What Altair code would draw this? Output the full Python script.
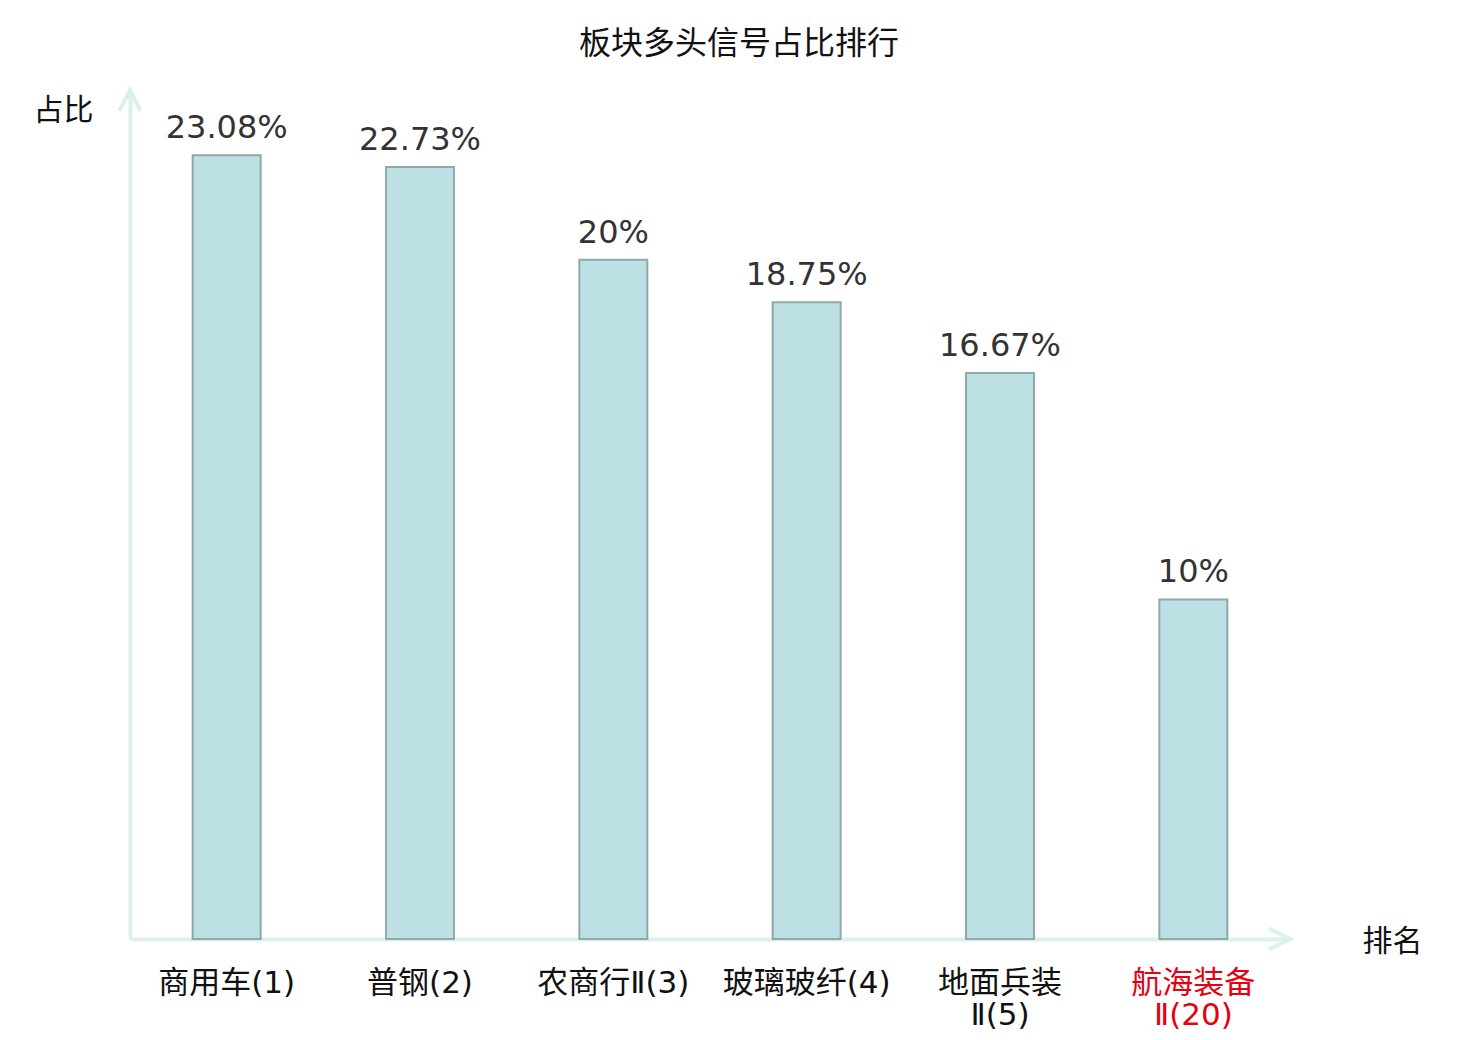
import altair as alt
import pandas as pd

categories = ["商用车(1)", "普钢(2)", "农商行Ⅱ(3)", "玻璃玻纤(4)", "地面兵装\nⅡ(5)", "航海装备\nⅡ(20)"]
values = [23.08, 22.73, 20, 18.75, 16.67, 10]

df = pd.DataFrame({"cat": categories, "value": values})

AXIS_COLOR = "#dcf1ee"
CJK = "DejaVu Sans ExtraLight, DejaVu Sans, Noto Sans CJK SC"
CJK_T = "DejaVu Sans, Noto Sans CJK SC"

x_enc = alt.X(
    "cat:N",
    sort=categories,
    scale=alt.Scale(paddingInner=0, paddingOuter=0),
    axis=alt.Axis(
        title="排名",
        titleFont=CJK_T,
        titleFontSize=30,
        titleFontWeight="normal",
        titleColor="#111",
        titleAngle=0,
        titleX=1262,
        titleY=2,
        titleAlign="center",
        titleBaseline="middle",
        labelAngle=0,
        labelFont=CJK,
        labelFontSize=31,
        labelFontWeight="normal",
        labelColor=alt.ExprRef("datum.value == '航海装备\\nⅡ(20)' ? '#e60012' : '#111'"),
        labelExpr="split(datum.label, '\\n')",
        labelLineHeight=32,
        labelPadding=29,
        labelBaseline="top",
        ticks=False,
        domainColor=AXIS_COLOR,
        domainWidth=4,
        grid=False,
    ),
)

y_scale = alt.Scale(domain=[0, 25], nice=False)

bars = alt.Chart(df).mark_bar(
    width=68, color="#bce0e3", stroke="#8fa8a8", strokeWidth=2
).encode(
    x=x_enc,
    y=alt.Y(
        "value:Q",
        scale=y_scale,
        axis=alt.Axis(
            title="占比",
            titleFont=CJK_T,
            titleFontSize=30,
            titleFontWeight="normal",
            titleColor="#111",
            titleAngle=0,
            titleX=-67,
            titleY=20,
            titleAlign="center",
            titleBaseline="middle",
            labels=False,
            ticks=False,
            grid=False,
            domainColor=AXIS_COLOR,
            domainWidth=4,
        ),
    ),
)

text = alt.Chart(df).transform_calculate(
    lbl="format(datum.value, '.4~') + '%'"
).mark_text(
    font="DejaVu Sans", fontSize=32, color="#333", baseline="alphabetic", dy=-17
).encode(
    x=alt.X("cat:N", sort=categories),
    y=alt.Y("value:Q", scale=y_scale),
    text="lbl:N",
)

arrow_df = pd.DataFrame({"v": [25]})
y_arrow = alt.Chart(arrow_df).mark_point(
    shape="M-1,2L0,0L1,2", size=441, filled=False, stroke=AXIS_COLOR, strokeWidth=4, opacity=1
).encode(x=alt.value(0), y=alt.Y("v:Q", scale=y_scale))

x_arrow = alt.Chart(arrow_df).mark_point(
    shape="M-2,-1L0,0L-2,1", size=441, filled=False, stroke=AXIS_COLOR, strokeWidth=4, opacity=1
).encode(x=alt.value(1160), y=alt.value(849))

chart = alt.layer(bars, text, y_arrow, x_arrow).properties(
    width=1160,
    height=849,
    background="white",
    title=alt.TitleParams(
        "板块多头信号占比排行",
        font=CJK_T,
        fontSize=32,
        fontWeight="normal",
        color="#111",
        anchor="middle",
        dx=29,
        offset=21,
    ),
    autosize=alt.AutoSizeParams(type="none"),
    padding={"left": 122, "top": 82, "right": 182, "bottom": 93},
).configure_view(stroke=None, strokeWidth=0)

chart.save("out.html", embed_options={"renderer": "svg", "actions": False})
